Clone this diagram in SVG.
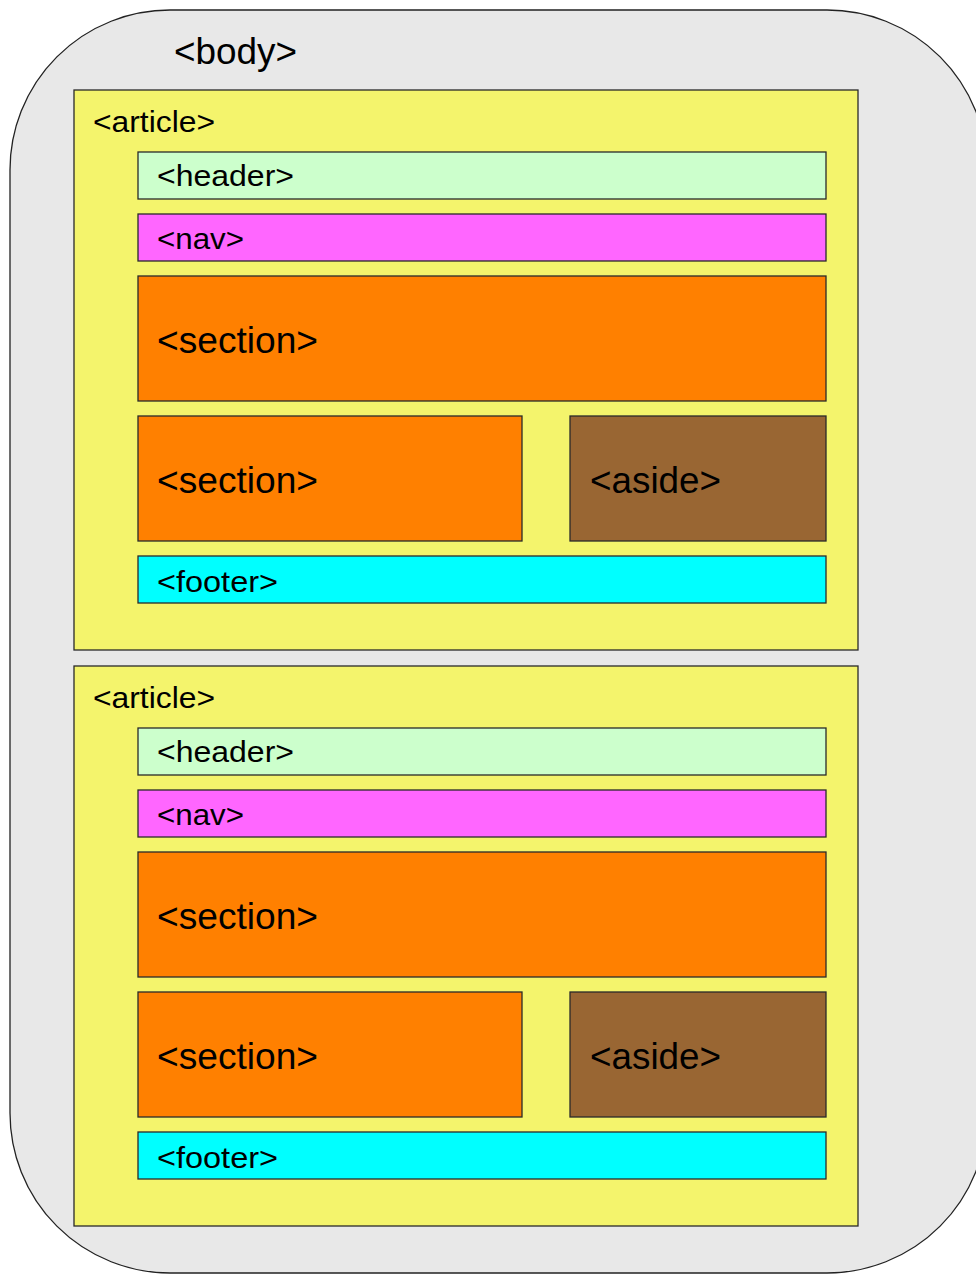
<svg xmlns="http://www.w3.org/2000/svg" width="976" height="1274" viewBox="0 0 976 1274">
<style>
  .box{stroke:#2a2a2a;stroke-width:1.3}
  .art{fill:#f4f46c}
  .hdr{fill:#ccffcc}
  .nav{fill:#ff66ff}
  .sec{fill:#ff8000}
  .asd{fill:#996633}
  .ftr{fill:#00ffff}
  text{font-family:"Liberation Sans",Arial,sans-serif;fill:#000000}
  .sm{font-size:29px}
  .lg{font-size:36px}
</style>
<rect width="976" height="1274" fill="#ffffff"/>
<g id="body">
  <rect x="10" y="10" width="977" height="1263" rx="160" ry="160" fill="#e8e8e8" stroke="#222222" stroke-width="1.3"/>
  <text class="lg" x="174" y="64" textLength="123" lengthAdjust="spacingAndGlyphs">&lt;body&gt;</text>
</g>
<g id="article1">
  <rect class="box art" x="74" y="90" width="784" height="560"/>
  <text class="sm" x="93" y="132" textLength="122" lengthAdjust="spacingAndGlyphs">&lt;article&gt;</text>
</g>
<g id="header1">
  <rect class="box hdr" x="138" y="152" width="688" height="47"/>
  <text class="sm" x="157" y="186" textLength="137" lengthAdjust="spacingAndGlyphs">&lt;header&gt;</text>
</g>
<g id="nav1">
  <rect class="box nav" x="138" y="214" width="688" height="47"/>
  <text class="sm" x="157" y="249" textLength="87" lengthAdjust="spacingAndGlyphs">&lt;nav&gt;</text>
</g>
<g id="section1a">
  <rect class="box sec" x="138" y="276" width="688" height="125"/>
  <text class="lg" x="157" y="353" textLength="161" lengthAdjust="spacingAndGlyphs">&lt;section&gt;</text>
</g>
<g id="section1b">
  <rect class="box sec" x="138" y="416" width="384" height="125"/>
  <text class="lg" x="157" y="493" textLength="161" lengthAdjust="spacingAndGlyphs">&lt;section&gt;</text>
</g>
<g id="aside1">
  <rect class="box asd" x="570" y="416" width="256" height="125"/>
  <text class="lg" x="590" y="493" textLength="131" lengthAdjust="spacingAndGlyphs">&lt;aside&gt;</text>
</g>
<g id="footer1">
  <rect class="box ftr" x="138" y="556" width="688" height="47"/>
  <text class="sm" x="157" y="592" textLength="121" lengthAdjust="spacingAndGlyphs">&lt;footer&gt;</text>
</g>
<g id="article2">
  <rect class="box art" x="74" y="666" width="784" height="560"/>
  <text class="sm" x="93" y="708" textLength="122" lengthAdjust="spacingAndGlyphs">&lt;article&gt;</text>
</g>
<g id="header2">
  <rect class="box hdr" x="138" y="728" width="688" height="47"/>
  <text class="sm" x="157" y="762" textLength="137" lengthAdjust="spacingAndGlyphs">&lt;header&gt;</text>
</g>
<g id="nav2">
  <rect class="box nav" x="138" y="790" width="688" height="47"/>
  <text class="sm" x="157" y="825" textLength="87" lengthAdjust="spacingAndGlyphs">&lt;nav&gt;</text>
</g>
<g id="section2a">
  <rect class="box sec" x="138" y="852" width="688" height="125"/>
  <text class="lg" x="157" y="929" textLength="161" lengthAdjust="spacingAndGlyphs">&lt;section&gt;</text>
</g>
<g id="section2b">
  <rect class="box sec" x="138" y="992" width="384" height="125"/>
  <text class="lg" x="157" y="1069" textLength="161" lengthAdjust="spacingAndGlyphs">&lt;section&gt;</text>
</g>
<g id="aside2">
  <rect class="box asd" x="570" y="992" width="256" height="125"/>
  <text class="lg" x="590" y="1069" textLength="131" lengthAdjust="spacingAndGlyphs">&lt;aside&gt;</text>
</g>
<g id="footer2">
  <rect class="box ftr" x="138" y="1132" width="688" height="47"/>
  <text class="sm" x="157" y="1168" textLength="121" lengthAdjust="spacingAndGlyphs">&lt;footer&gt;</text>
</g>
<g id="connectors"></g>
</svg>
